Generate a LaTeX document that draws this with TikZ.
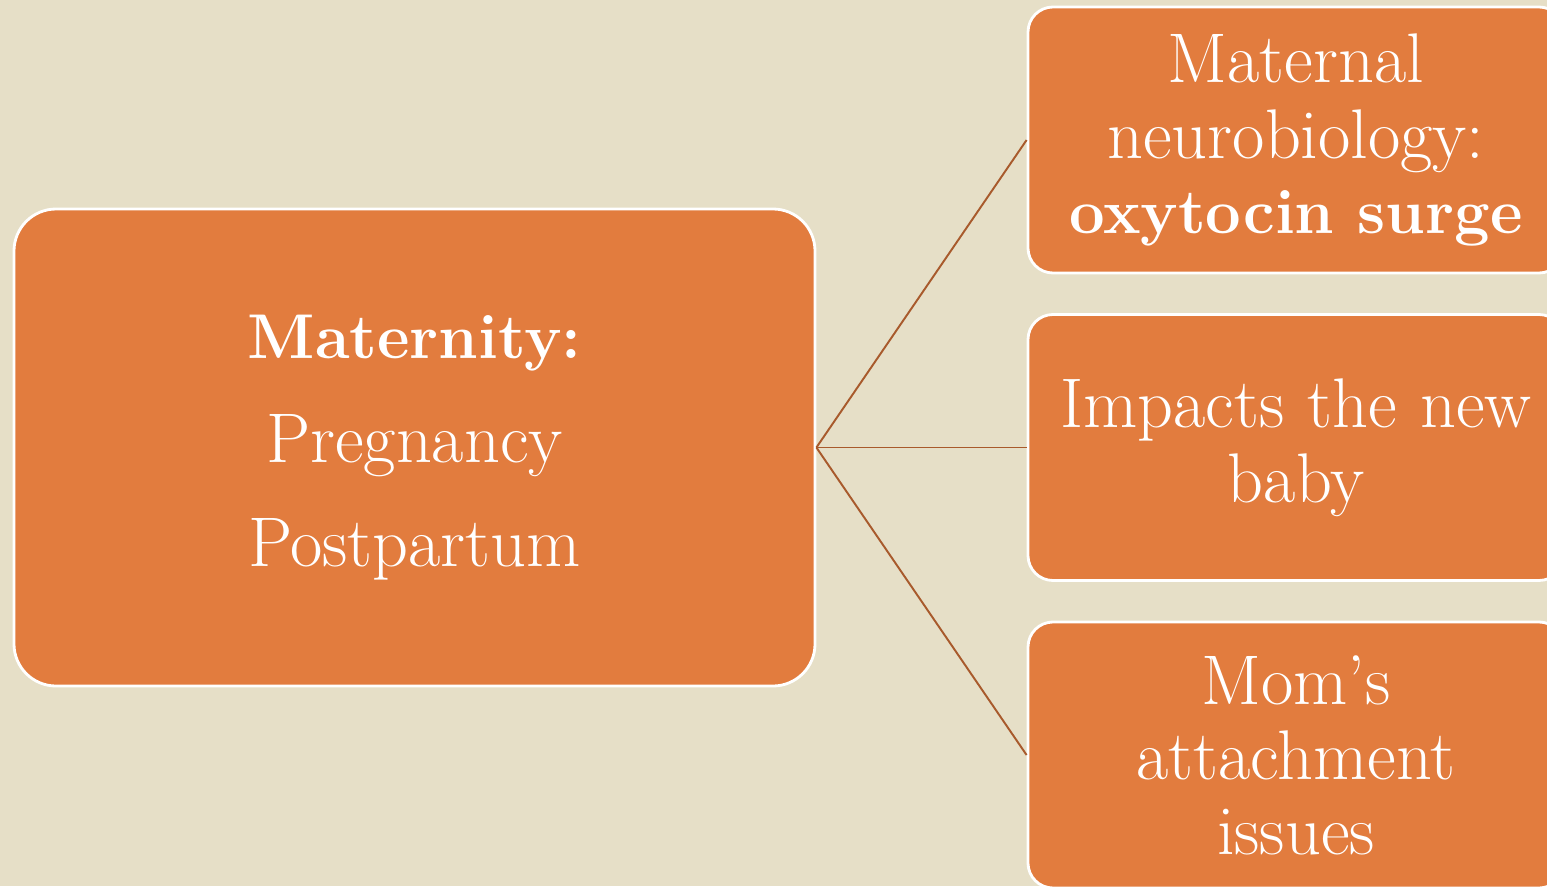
\documentclass[tikz,border=0pt]{standalone}
\usepackage{fontspec}
\usetikzlibrary{positioning}
\definecolor{mtbeige}{HTML}{E6DFC7}
\definecolor{mtorange}{HTML}{E27C3E}
\definecolor{mtbrown}{HTML}{A85A2C}
\newcommand{\mtbold}[1]{{\fontsize{36}{42.7}\selectfont\bfseries #1}}

\begin{document}
\begin{tikzpicture}[
  mainbox/.style={draw=white, line width=1.6pt, fill=mtorange,
                  rounded corners=0.84cm, minimum width=16.02cm,
                  minimum height=9.54cm, align=center, text=white,
                  font=\fontsize{40}{59}\selectfont},
  sidebox/.style={draw=white, line width=1.6pt, fill=mtorange,
                  rounded corners=0.5cm, minimum width=10.72cm,
                  minimum height=5.32cm, text width=10.4cm, align=center,
                  text=white, font=\fontsize{40}{42.7}\selectfont},
  link/.style={draw=mtbrown, line width=1.1pt},
]
  % Page and background.
  \useasboundingbox (0,0) rectangle (30.94,-17.72);
  \clip (0,0) rectangle (30.94,-17.72);
  \fill[mtbeige] (0,0) rectangle (30.94,-17.72);

  % Central topic.
  \node[mainbox] (maternity) at (8.29,-8.95)
    {\mtbold{Maternity:}\\Pregnancy\\Postpartum};

  % Three outcomes on the right.
  \node[sidebox] (neuro) at (25.92,-2.80)
    {Maternal\\neurobiology:\\\mtbold{oxytocin surge}};
  \node[sidebox] (impacts) at (25.92,-8.95)
    {Impacts the new\\baby};
  \node[sidebox] (attach) at (25.92,-15.10)
    {Mom’s\\attachment\\issues};

  \draw[link] (maternity.east) -- (neuro.west);
  \draw[link] (maternity.east) -- (impacts.west);
  \draw[link] (maternity.east) -- (attach.west);

\end{tikzpicture}
\end{document}
